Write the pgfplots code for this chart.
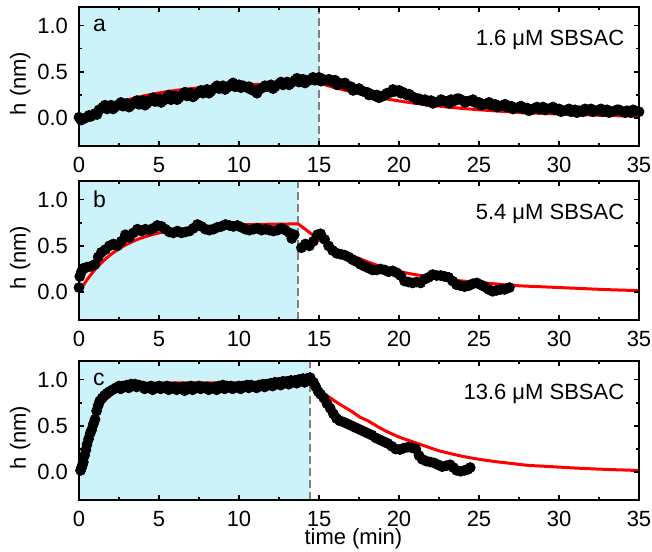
\documentclass[border=0pt]{standalone}
\usepackage{fontspec}
\setmainfont{Liberation Sans}
\usepackage{pgfplots}
\pgfplotsset{compat=1.18}
\definecolor{lightcyan}{RGB}{204,242,250}
\definecolor{dashgray}{RGB}{128,128,128}

\pgfplotsset{
  panel/.style={
    width=280pt, height=69.5pt, scale only axis,
    xmin=0, xmax=35, ymin=-0.3, ymax=1.2,
    xtick={0,5,...,35}, ytick={0,0.5,1},
    minor x tick num=1, minor y tick num=1,
    tick align=inside, tick pos=both,
    major tick length=2.6pt, minor tick length=1.4pt,
    every tick/.style={black, line width=0.8pt},
    axis line style={line width=1.2pt},
    axis on top,
    tick label style={font=\fontsize{11}{13}\selectfont},
    /pgf/number format/assume math mode=true,
    xticklabel style={yshift=-2pt},
    yticklabel style={xshift=-2pt, /pgf/number format/.cd, fixed, fixed zerofill, precision=1},
    ylabel={h (nm)},
    ylabel style={font=\fontsize{11}{13}\selectfont, at={(axis description cs:-0.105,0.45)}, anchor=center},
  },
  dots/.style={only marks, mark=*, mark size=2.5pt, black},
  fit/.style={red, line width=1.5pt, no marks, smooth},
}

\begin{document}
\begin{tikzpicture}
\useasboundingbox (0,0) rectangle (326pt,-275.5pt);

% ---- panel a
\begin{axis}[panel, at={(39.5pt,-73pt)}, anchor=south west]
\fill[lightcyan] (axis cs:0,-0.3) rectangle (axis cs:15,1.2);
\draw[dashgray, line width=0.9pt, dash pattern=on 4pt off 2pt] (axis cs:15,-0.3) -- (axis cs:15,1.2);
\addplot[dots] coordinates {
(0.00,0.01) (0.25,-0.01) (0.50,0.01) (0.75,0.02) (1.00,0.05) (1.25,0.09) (1.50,0.12) (1.75,0.10)
(2.00,0.14) (2.25,0.12) (2.50,0.15) (2.75,0.13) (3.00,0.16) (3.25,0.14) (3.50,0.17) (3.75,0.15)
(4.00,0.19) (4.25,0.16) (4.50,0.20) (4.75,0.18) (5.00,0.21) (5.25,0.19) (5.50,0.23) (5.75,0.20)
(6.00,0.24) (6.25,0.22) (6.50,0.26) (6.75,0.24) (7.00,0.27) (7.25,0.25) (7.50,0.28) (7.75,0.27)
(8.00,0.31) (8.25,0.29) (8.50,0.33) (8.75,0.32) (9.00,0.35) (9.25,0.33) (9.50,0.36) (9.75,0.34)
(10.00,0.36) (10.25,0.35) (10.50,0.33) (10.75,0.31) (11.00,0.29) (11.25,0.31) (11.50,0.33) (11.75,0.34)
(12.00,0.36) (12.25,0.34) (12.50,0.37) (12.75,0.36) (13.00,0.39) (13.25,0.38) (13.50,0.41) (13.75,0.39)
(14.00,0.42) (14.25,0.40) (14.50,0.42) (14.75,0.41) (15.00,0.44) (15.25,0.42) (15.50,0.41) (15.75,0.40)
(16.00,0.41) (16.25,0.38) (16.50,0.37) (16.75,0.35) (17.00,0.34) (17.25,0.31) (17.50,0.32) (17.75,0.29)
(18.00,0.28) (18.25,0.26) (18.50,0.24) (18.75,0.22) (19.00,0.24) (19.25,0.27) (19.50,0.28) (19.75,0.29)
(20.00,0.30) (20.25,0.28) (20.50,0.25) (20.75,0.24) (21.00,0.22) (21.25,0.21) (21.50,0.19) (21.75,0.18)
(22.00,0.19) (22.25,0.17) (22.50,0.18) (22.75,0.19) (23.00,0.18) (23.25,0.20) (23.50,0.19) (23.75,0.21)
(24.00,0.19) (24.25,0.18) (24.50,0.19) (24.75,0.17) (25.00,0.17) (25.25,0.15) (25.50,0.16) (25.75,0.14)
(26.00,0.15) (26.25,0.13) (26.50,0.14) (26.75,0.12) (27.00,0.13) (27.25,0.11) (27.50,0.12) (27.75,0.10)
(28.00,0.11) (28.25,0.09) (28.50,0.11) (28.75,0.10) (29.00,0.12) (29.25,0.10) (29.50,0.11) (29.75,0.09)
(30.00,0.10) (30.25,0.08) (30.50,0.09) (30.75,0.07) (31.00,0.09) (31.25,0.08) (31.50,0.07) (31.75,0.09)
(32.00,0.10) (32.25,0.08) (32.50,0.09) (32.75,0.07) (33.00,0.09) (33.25,0.07) (33.50,0.08) (33.75,0.09)
(34.00,0.07) (34.25,0.08) (34.50,0.06) (34.75,0.08) (35.00,0.07)
};
% second, interleaved run of the same trace (scatter of the measurement)
\addplot[dots] coordinates {
(0.125,-0.02) (0.625,0.03) (1.125,0.04) (1.625,0.14) (2.125,0.10) (2.625,0.17) (3.125,0.12) (3.625,0.19)
(4.125,0.14) (4.625,0.22) (5.125,0.17) (5.625,0.25) (6.125,0.20) (6.625,0.28) (7.125,0.23) (7.625,0.30)
(8.125,0.27) (8.625,0.35) (9.125,0.31) (9.625,0.38) (10.125,0.33) (10.625,0.34) (11.125,0.27) (11.625,0.35)
(12.125,0.32) (12.625,0.39) (13.125,0.36) (13.625,0.43) (14.125,0.38) (14.625,0.44) (15.125,0.40) (15.625,0.42)
(16.125,0.36) (16.625,0.38) (17.125,0.30) (17.625,0.30) (18.125,0.25) (18.625,0.25) (19.125,0.25) (19.625,0.31)
(20.125,0.27) (20.625,0.26) (21.125,0.20) (21.625,0.20) (22.125,0.16) (22.625,0.20) (23.125,0.16) (23.625,0.21)
(24.125,0.17) (24.625,0.20) (25.125,0.14) (25.625,0.17) (26.125,0.12) (26.625,0.15) (27.125,0.10) (27.625,0.13)
(28.125,0.08) (28.625,0.12) (29.125,0.09) (29.625,0.12) (30.125,0.07) (30.625,0.10) (31.125,0.06) (31.625,0.10)
(32.125,0.07) (32.625,0.10) (33.125,0.06) (33.625,0.09) (34.125,0.06) (34.625,0.09)
};
\addplot[fit] coordinates {
(0,-0.020) (0.5,0.028) (1,0.071) (1.5,0.108) (2,0.141) (2.5,0.171) (3,0.196) (4,0.239) (5,0.273)
(6,0.299) (7,0.319) (8,0.335) (9,0.347) (10,0.356) (11,0.364) (12,0.370) (13,0.374) (14,0.378) (15,0.380)
};
\addplot[fit] coordinates {
(15,0.380) (16,0.329) (17,0.286) (18,0.248) (19,0.215) (20,0.186) (21,0.161) (22,0.140) (23,0.121)
(24,0.105) (25,0.091) (26,0.079) (27,0.068) (28,0.059) (29,0.051) (30,0.045) (31,0.039) (32,0.034)
(33,0.029) (34,0.025) (35,0.022)
};
\node[anchor=west, inner sep=0, font=\fontsize{11.5}{13}\selectfont] at (axis cs:0.85,1.0) {a};
\node[anchor=east, inner sep=0, font=\fontsize{11}{13}\selectfont] at (axis cs:34.1,0.85) {1.6 μM SBSAC};
\end{axis}

% ---- panel b
\begin{axis}[panel, at={(39.5pt,-160pt)}, anchor=south west]
\fill[lightcyan] (axis cs:0,-0.3) rectangle (axis cs:13.7,1.2);
\draw[dashgray, line width=0.9pt, dash pattern=on 4pt off 2pt] (axis cs:13.7,-0.3) -- (axis cs:13.7,1.2);
\addplot[dots] coordinates {
(0.00,0.05) (0.05,0.17) (0.15,0.22) (0.30,0.26) (0.50,0.27) (0.75,0.28) (1.00,0.30) (1.20,0.38)
(1.40,0.43) (1.65,0.46) (1.90,0.50) (2.15,0.52) (2.40,0.50) (2.65,0.55) (2.90,0.62) (3.15,0.59)
(3.40,0.64) (3.65,0.68) (3.90,0.66) (4.15,0.68) (4.40,0.67) (4.65,0.69) (4.90,0.72) (5.15,0.71)
(5.40,0.68) (5.65,0.65) (5.90,0.64) (6.15,0.66) (6.40,0.64) (6.65,0.65) (6.90,0.66) (7.15,0.69)
(7.40,0.73) (7.65,0.71) (7.90,0.68) (8.15,0.67) (8.40,0.68) (8.65,0.70) (8.90,0.71) (9.15,0.73)
(9.40,0.72) (9.65,0.71) (9.90,0.72) (10.15,0.70) (10.40,0.68) (10.65,0.67) (10.90,0.68) (11.15,0.69)
(11.40,0.67) (11.65,0.68) (11.90,0.67) (12.15,0.66) (12.40,0.67) (12.65,0.69) (12.90,0.67) (13.15,0.64)
(13.30,0.58) (13.45,0.62) (13.90,0.48) (14.15,0.52) (14.40,0.50) (14.65,0.55) (14.90,0.62) (15.10,0.63)
(15.35,0.57) (15.60,0.50) (15.85,0.45) (16.10,0.42) (16.35,0.41) (16.60,0.40) (16.85,0.38) (17.10,0.35)
(17.35,0.33) (17.60,0.30) (17.85,0.28) (18.10,0.26) (18.35,0.24) (18.60,0.24) (18.85,0.25) (19.10,0.24)
(19.35,0.22) (19.60,0.23) (19.85,0.21) (20.10,0.18) (20.35,0.12) (20.60,0.11) (20.85,0.10) (21.10,0.11)
(21.35,0.10) (21.60,0.14) (21.85,0.16) (22.10,0.19) (22.35,0.18) (22.60,0.18) (22.85,0.17) (23.10,0.16)
(23.35,0.12) (23.60,0.08) (23.85,0.07) (24.10,0.06) (24.35,0.07) (24.60,0.09) (24.85,0.10) (25.10,0.08)
(25.35,0.06) (25.60,0.03) (25.85,0.01) (26.10,0.02) (26.35,0.03) (26.60,0.03) (26.90,0.05)
};
\addplot[fit] coordinates {
(0,0) (0.5,0.134) (1,0.244) (1.5,0.334) (2,0.408) (2.5,0.468) (3,0.517) (3.5,0.558) (4,0.591)
(5,0.640) (6,0.673) (7,0.695) (8,0.710) (9,0.720) (10,0.726) (11,0.731) (12,0.734) (13.7,0.737)
};
\addplot[red, line width=1.5pt, no marks] coordinates {(13.7,0.737) (15.0,0.567)};
\addplot[fit] coordinates {
(15.0,0.567) (16,0.47) (17,0.40) (18,0.33) (19,0.27) (20,0.224) (21,0.19) (22,0.165) (23,0.14)
(24,0.12) (25,0.105) (26,0.09) (27,0.075) (28,0.065) (29,0.058) (30,0.05) (31,0.043) (32,0.035)
(33,0.028) (34,0.022) (35,0.018)
};
\node[anchor=west, inner sep=0, font=\fontsize{11.5}{13}\selectfont] at (axis cs:0.85,1.0) {b};
\node[anchor=east, inner sep=0, font=\fontsize{11}{13}\selectfont] at (axis cs:34.1,0.85) {5.4 μM SBSAC};
\end{axis}

% ---- panel c
\begin{axis}[panel, at={(39.5pt,-250pt)}, anchor=south west,
  xlabel={time (min)},
  xlabel style={font=\fontsize{11}{13}\selectfont, at={(axis description cs:0.49,0)}, anchor=north, inner sep=0, yshift=-14pt}]
\fill[lightcyan] (axis cs:0,-0.3) rectangle (axis cs:14.45,1.2);
\draw[dashgray, line width=0.9pt, dash pattern=on 4pt off 2pt] (axis cs:14.45,-0.3) -- (axis cs:14.45,1.2);
\addplot[dots] coordinates {
(0.10,0.02) (0.16,0.05) (0.22,0.08) (0.27,0.11) (0.35,0.18) (0.43,0.24) (0.50,0.30) (0.60,0.36)
(0.70,0.42) (0.80,0.46) (0.90,0.52) (1.00,0.57) (1.10,0.66) (1.20,0.72) (1.30,0.77) (1.45,0.80)
(1.60,0.83) (1.75,0.85) (1.90,0.87) (2.10,0.89) (2.30,0.91) (2.50,0.93) (2.75,0.93) (3.00,0.94)
(3.25,0.95) (3.50,0.95) (3.75,0.94) (4.00,0.93) (4.25,0.92) (4.50,0.93) (4.75,0.92) (5.00,0.93)
(5.25,0.92) (5.50,0.93) (5.75,0.92) (6.00,0.92) (6.25,0.91) (6.50,0.92) (6.75,0.92) (7.00,0.93)
(7.25,0.92) (7.50,0.93) (7.75,0.92) (8.00,0.92) (8.25,0.91) (8.50,0.92) (8.75,0.93) (9.00,0.94)
(9.25,0.93) (9.50,0.93) (9.75,0.92) (10.00,0.93) (10.25,0.93) (10.50,0.94) (10.75,0.94) (11.00,0.93)
(11.25,0.94) (11.50,0.95) (11.75,0.95) (12.00,0.96) (12.25,0.97) (12.50,0.97) (12.75,0.98) (13.00,0.98)
(13.25,0.99) (13.50,0.99) (13.75,1.00) (14.00,1.01) (14.25,1.01) (14.45,1.02) (14.65,0.97) (14.80,0.92)
(14.95,0.87) (15.10,0.84) (15.30,0.80) (15.50,0.74) (15.70,0.69) (15.90,0.63) (16.10,0.58) (16.30,0.555)
(16.55,0.54) (16.80,0.52) (17.05,0.50) (17.30,0.48) (17.55,0.46) (17.80,0.44) (18.05,0.42) (18.30,0.40)
(18.55,0.37) (18.80,0.35) (19.05,0.33) (19.30,0.31) (19.55,0.28) (19.80,0.25) (20.05,0.245) (20.30,0.26)
(20.55,0.27) (20.80,0.265) (21.05,0.25) (21.25,0.18) (21.45,0.14) (21.70,0.12) (21.95,0.11) (22.20,0.10)
(22.45,0.08) (22.70,0.06) (22.95,0.07) (23.20,0.08) (23.40,0.05) (23.60,0.02) (23.85,0.01) (24.10,0.02)
(24.30,0.03) (24.45,0.05)
};
\addplot[dots] coordinates {
(2.6,0.90) (3.1,0.91) (3.6,0.92) (4.1,0.90) (4.6,0.89) (5.1,0.90) (5.6,0.89) (6.1,0.89) (6.6,0.88)
(7.1,0.89) (7.6,0.90) (8.1,0.89) (8.6,0.89) (9.1,0.90) (9.6,0.90) (10.1,0.90) (10.6,0.91) (11.1,0.91)
(11.6,0.92) (12.1,0.93) (12.6,0.94) (13.1,0.95) (13.6,0.96) (14.1,0.97)
};
\addplot[fit] coordinates {
(0,0) (0.25,0.213) (0.5,0.380) (0.75,0.509) (1.0,0.610) (1.25,0.689) (1.5,0.750) (2,0.834)
(2.5,0.886) (3,0.917) (3.5,0.936) (4,0.947) (5,0.959) (6,0.963) (8,0.965) (14.45,0.965)
};
\addplot[red, line width=1.5pt, no marks] coordinates {(14.45,0.965) (15.06,0.88)};
\addplot[fit] coordinates {
(15.06,0.88) (16.1,0.755) (17,0.66) (17.6,0.59) (18,0.56) (19,0.46) (20,0.38) (21,0.32) (22,0.26)
(22.6,0.226) (23,0.21) (24,0.17) (25,0.14) (26,0.115) (27,0.095) (28,0.075) (29,0.065) (30,0.055)
(31,0.045) (32,0.037) (33,0.03) (34,0.024) (35,0.018)
};
\node[anchor=west, inner sep=0, font=\fontsize{11.5}{13}\selectfont] at (axis cs:0.85,1.0) {c};
\node[anchor=east, inner sep=0, font=\fontsize{11}{13}\selectfont] at (axis cs:34.1,0.85) {13.6 μM SBSAC};
\end{axis}
\end{tikzpicture}
\end{document}
